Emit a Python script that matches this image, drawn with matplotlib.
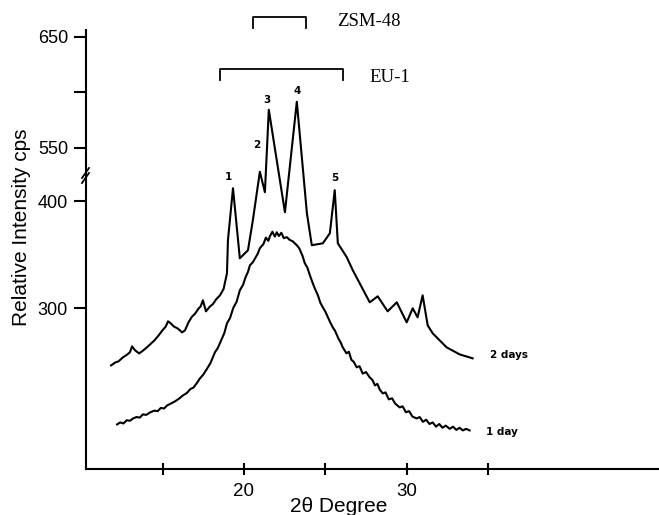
import numpy as np
import matplotlib
matplotlib.use("Agg")
import matplotlib.pyplot as plt
from matplotlib.lines import Line2D

# ---- data (2theta in degrees, intensity in cps) ----
two_days_x = [11.84, 12.1, 12.3, 12.55, 12.8, 13.0, 13.13, 13.3, 13.56, 13.8, 14.0, 14.25, 14.5,
              14.75, 15.0, 15.2, 15.34, 15.5, 15.7, 15.9, 16.07, 16.2, 16.38,
              16.6, 16.8, 17.0, 17.2, 17.35, 17.48, 17.67, 17.9, 18.1, 18.3, 18.53, 18.75, 18.96,
              19.02, 19.33, 19.75, 20.25,
              20.55, 20.98, 21.29, 21.53, 22.52, 23.25, 23.87, 24.17, 24.85, 25.28, 25.58,
              25.77, 26.32, 26.69, 27.73, 28.22, 28.83, 29.39, 30.00, 30.37, 30.67, 30.98,
              31.29, 31.60, 32.45, 33.25, 34.05]
two_days_y = [246.7, 249.5, 250.5, 254.0, 256.5, 259.0, 264.5, 261.0, 257.9, 260.5, 263.0, 266.5, 270.0,
              274.5, 279.5, 283.0, 287.9, 286.0, 283.0, 281.5, 279.4, 277.5, 279.4,
              287.0, 292.0, 295.0, 299.5, 302.0, 307.5, 297.2, 301.5, 304.0, 308.5, 312.1, 318.0, 332.7,
              363.6, 412.1, 346.7, 354.2,
              382.2, 528.4, 408.4, 584.2, 389.7, 591.4, 388.8, 358.9, 360.7, 370.1, 410.3,
              360.7, 347.7, 335.5, 305.6, 311.2, 297.2, 305.6, 286.9, 300.0, 291.6, 312.1,
              284.1, 276.6, 263.6, 257.0, 253.3]

one_day_x = [12.21, 12.4, 12.6, 12.8, 13.0, 13.19, 13.4, 13.6, 13.8, 14.0, 14.23, 14.5, 14.7,
             14.9, 15.1, 15.28, 15.5, 15.75, 16.0, 16.26, 16.5, 16.7, 16.9, 17.1, 17.30, 17.5,
             17.75, 17.95, 18.22, 18.4, 18.6, 18.8, 18.96, 19.15, 19.35, 19.55, 19.75, 19.95,
             20.1, 20.25, 20.37, 20.55, 20.7, 20.85, 20.98, 21.2, 21.35, 21.5,
             21.60, 21.75, 21.9, 22.02, 22.15, 22.3, 22.45, 22.64, 22.8, 23.0, 23.25, 23.4,
             23.5, 23.6, 23.74, 23.9, 24.05, 24.23, 24.4, 24.55, 24.7, 24.85, 25.0, 25.15,
             25.3, 25.46, 25.6, 25.8, 25.95, 26.07, 26.3, 26.45, 26.6, 26.75, 26.93, 27.1,
             27.3, 27.5, 27.73, 27.9, 28.05, 28.2, 28.35, 28.53, 28.7, 28.9, 29.1, 29.3,
             29.57, 29.75, 29.95, 30.15, 30.35, 30.61, 30.8, 31.0, 31.2, 31.4, 31.6, 31.8,
             32.0, 32.2, 32.4, 32.64, 32.85, 33.05, 33.25, 33.45, 33.65, 33.87]
one_day_y = [191.6, 193.5, 192.5, 195.5, 195.0, 197.2, 198.5, 198.0, 201.0, 200.5, 202.8, 204.5, 204.0,
             207.0, 206.5, 209.3, 211.0, 213.0, 215.5, 218.7, 221.0, 224.5, 226.0, 230.0, 234.6, 238.0,
             244.0, 249.0, 258.9, 263.0, 270.0, 277.0, 286.0, 291.0, 300.5, 306.0, 316.8, 322.0,
             329.0, 334.0, 340.2, 343.0, 347.0, 351.0, 356.1, 360.0, 366.0, 363.0,
             367.3, 371.5, 367.0, 371.0, 367.5, 370.5, 365.5, 366.4, 364.0, 362.5, 358.9, 356.0,
             352.5, 349.0, 342.1, 338.0, 331.0, 323.4, 317.0, 312.0, 305.0, 300.9, 297.0, 292.0,
             287.0, 282.2, 279.0, 272.0, 268.0, 263.6, 258.0, 259.5, 252.0, 250.0, 244.9, 246.0,
             239.0, 240.5, 235.5, 233.0, 228.0, 229.5, 224.0, 220.6, 221.5, 215.0, 216.0, 211.0,
             207.5, 208.5, 203.0, 204.0, 199.0, 197.2, 198.5, 194.0, 196.0, 192.0, 193.5, 189.5,
             192.0, 188.5, 190.5, 187.5, 189.5, 186.5, 188.5, 186.0, 187.5, 186.0]

peak_labels = ["1", "2", "3", "4", "5"]
peak_label_x = [19.08, 20.78, 21.39, 23.25, 25.58]
peak_label_y = [423.0, 552.7, 593.2, 601.4, 421.5]

y_ticks = [300, 400, 550, 600, 650]
y_tick_labels = ["300", "400", "550", "", "650"]
x_ticks = [15, 20, 25, 30, 35]
x_tick_labels = ["", "20", "", "30", ""]

# ---- broken y scale (424..526 collapsed) ----
_Y = [-1e4, 424.0, 526.0, 1e4]
_D = [-1e4, 424.0, 425.0, 425.0 + (1e4 - 526.0) * 1.037]

def fwd(y):
    return np.interp(y, _Y, _D)

def inv(d):
    return np.interp(d, _D, _Y)

plt.rcParams['font.family'] = ['Liberation Sans', 'DejaVu Sans']

fig = plt.figure(figsize=(6.59, 5.15), dpi=100)
ax = fig.add_axes([86 / 659, 46 / 515, 1 - 86 / 659, 439 / 515])
ax.set_yscale('function', functions=(fwd, inv))
ax.set_xlim(10.3, 45.5)
ax.set_ylim(150, 656)

ax.plot(two_days_x, two_days_y, color='black', lw=1.5)
ax.plot(one_day_x, one_day_y, color='black', lw=1.5)

for s in ['top', 'right']:
    ax.spines[s].set_visible(False)
for s in ['left', 'bottom']:
    ax.spines[s].set_linewidth(1.5)

ax.set_yticks(y_ticks)
ax.set_yticklabels(y_tick_labels)
ax.yaxis.set_minor_locator(matplotlib.ticker.NullLocator())
ax.set_xticks(x_ticks)
ax.set_xticklabels(x_tick_labels)
ax.tick_params(axis='y', direction='out', length=9, width=1.5, labelsize=13, pad=4)
ax.tick_params(axis='x', direction='inout', length=8, width=1.5, labelsize=13.5, pad=6)

for lab, px, py in zip(peak_labels, peak_label_x, peak_label_y):
    ax.text(px, py, lab, fontsize=7.5, fontweight='bold', ha='center', va='center',
            family=['DejaVu Sans'])

ax.text(35.1, 256, "2 days", fontsize=7.5, fontweight='bold', ha='left', va='center',
        family=['DejaVu Sans'])
ax.text(34.9, 185, "1 day", fontsize=7.5, fontweight='bold', ha='left', va='center',
        family=['DejaVu Sans'])

# brackets
ax.plot([20.55, 20.55, 23.80, 23.80], [658, 668, 668, 658], color='black', lw=1.3, clip_on=False)
ax.plot([18.53, 18.53, 26.07, 26.07], [611, 621, 621, 611], color='black', lw=1.3, clip_on=False)
ax.text(25.71, 664, "ZSM-48", fontsize=13.5, ha='left', va='center', clip_on=False,
        family=['Liberation Serif'])
ax.text(27.73, 613.5, "EU-1", fontsize=13.5, ha='left', va='center', clip_on=False,
        family=['Liberation Serif'])

# axis break marks
for dy in (0, 5):
    fig.add_artist(Line2D([82 / 659, 89 / 659],
                          [1 - (183 - dy) / 515, 1 - (173 - dy) / 515],
                          color='black', lw=1.3, transform=fig.transFigure))

fig.text(22 / 659, 1 - 227 / 515, "Relative Intensity cps", rotation=90, fontsize=15,
         ha='center', va='center')
fig.text(339 / 659, 1 - 506 / 515, "2θ Degree", fontsize=15, ha='center', va='center')

fig.savefig("out.png", dpi=100)
